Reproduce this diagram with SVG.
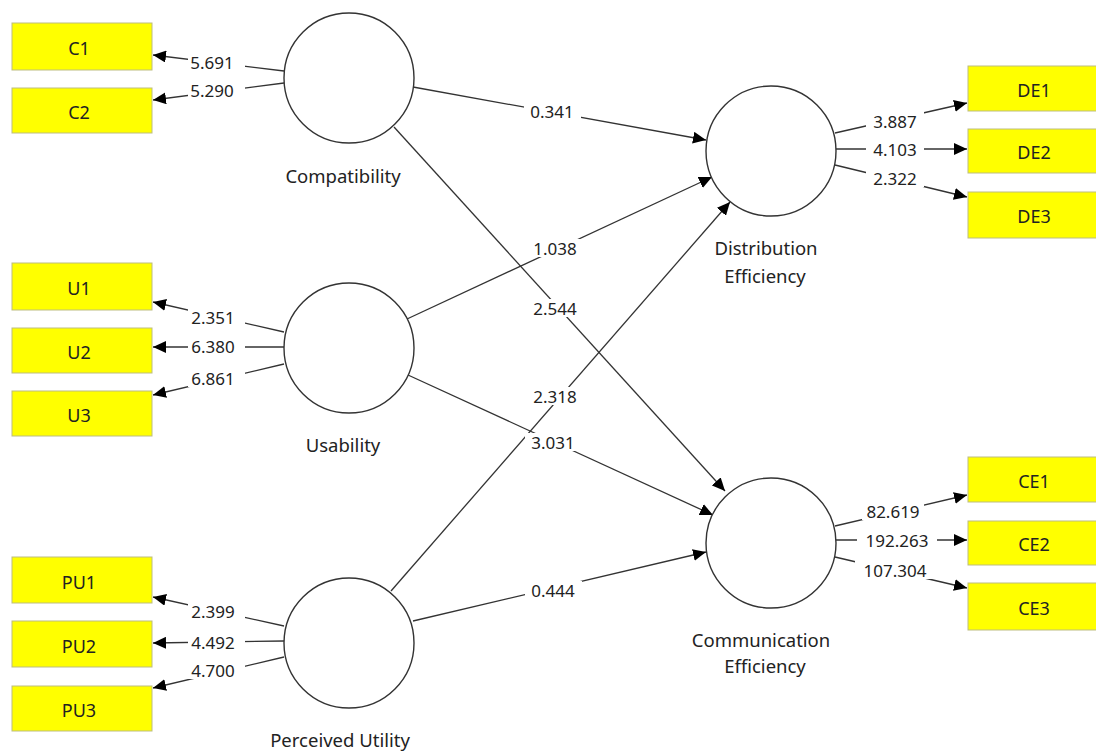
<svg xmlns="http://www.w3.org/2000/svg" width="1096" height="751" viewBox="0 0 1096 751">
<defs>
<marker id="arr" markerUnits="userSpaceOnUse" markerWidth="14" markerHeight="12" refX="13" refY="6" orient="auto">
<path d="M0,0 L13,6 L0,12 z" fill="#000"/>
</marker>
<style>
.box{fill:#ffff00;stroke:#bdbd80;stroke-width:1}
.lv{fill:#fff;stroke:#333;stroke-width:1.4}
.bt{font-family:"Noto Sans","Open Sans","Liberation Sans",sans-serif;font-size:18px;fill:#222;text-anchor:middle}
.lt{font-family:"Noto Sans","Open Sans","Liberation Sans",sans-serif;font-size:18.5px;fill:#222;text-anchor:middle}
.nt{font-family:"Noto Sans","Open Sans","Liberation Sans",sans-serif;font-size:17px;fill:#222;text-anchor:middle;dominant-baseline:central}
.ln{stroke:#333;stroke-width:1.3;fill:none;marker-end:url(#arr)}
.bg{fill:#fff}
</style>
</defs>
<rect width="1096" height="751" fill="#fff"/>
<g id="connectors">
<line class="ln" x1="284" y1="71" x2="153" y2="55"/>
<line class="ln" x1="284" y1="83" x2="153" y2="100"/>
<line class="ln" x1="284" y1="332" x2="153" y2="302"/>
<line class="ln" x1="284" y1="347" x2="153" y2="347"/>
<line class="ln" x1="284" y1="364" x2="153" y2="395"/>
<line class="ln" x1="284" y1="626" x2="153" y2="597"/>
<line class="ln" x1="284" y1="641" x2="153" y2="643"/>
<line class="ln" x1="284" y1="657" x2="153" y2="688"/>
<line class="ln" x1="835" y1="133" x2="967" y2="103"/>
<line class="ln" x1="836" y1="149" x2="967" y2="149"/>
<line class="ln" x1="835" y1="165" x2="967" y2="197"/>
<line class="ln" x1="835" y1="526" x2="967" y2="495"/>
<line class="ln" x1="836" y1="540" x2="967" y2="540"/>
<line class="ln" x1="835" y1="557" x2="967" y2="588"/>
<line class="ln" x1="413" y1="87" x2="706" y2="140"/>
<line class="ln" x1="407" y1="319" x2="712" y2="177"/>
<line class="ln" x1="391" y1="591" x2="730" y2="202"/>
<line class="ln" x1="394" y1="127" x2="725" y2="491"/>
<line class="ln" x1="408" y1="375" x2="713" y2="515"/>
<line class="ln" x1="413" y1="621" x2="706" y2="552"/>
<g id="labels">
<rect class="bg" x="188" y="53" width="57" height="18"/><text class="nt" x="212" y="62">5.691</text>
<rect class="bg" x="188" y="81" width="57" height="18"/><text class="nt" x="212" y="90">5.290</text>
<rect class="bg" x="188" y="308" width="57" height="18"/><text class="nt" x="213" y="317">2.351</text>
<rect class="bg" x="188" y="337" width="57" height="18"/><text class="nt" x="213" y="346">6.380</text>
<rect class="bg" x="188" y="369" width="57" height="18"/><text class="nt" x="213" y="378">6.861</text>
<rect class="bg" x="188" y="602" width="57" height="18"/><text class="nt" x="213" y="611">2.399</text>
<rect class="bg" x="188" y="633" width="57" height="18"/><text class="nt" x="213" y="642">4.492</text>
<rect class="bg" x="188" y="661" width="57" height="18"/><text class="nt" x="213" y="670">4.700</text>
<rect class="bg" x="866" y="112" width="58" height="18"/><text class="nt" x="895" y="121">3.887</text>
<rect class="bg" x="866" y="140" width="58" height="18"/><text class="nt" x="895" y="149">4.103</text>
<rect class="bg" x="866" y="169" width="58" height="18"/><text class="nt" x="895" y="178">2.322</text>
<rect class="bg" x="862" y="502" width="62" height="18"/><text class="nt" x="893" y="511">82.619</text>
<rect class="bg" x="857" y="531" width="80" height="18"/><text class="nt" x="897" y="540">192.263</text>
<rect class="bg" x="855" y="561" width="80" height="18"/><text class="nt" x="895" y="570">107.304</text>
<rect class="bg" x="524" y="102" width="57" height="18"/><text class="nt" x="552" y="111">0.341</text>
<rect class="bg" x="527" y="239" width="57" height="18"/><text class="nt" x="555" y="248">1.038</text>
<rect class="bg" x="527" y="299" width="57" height="18"/><text class="nt" x="555" y="308">2.544</text>
<rect class="bg" x="527" y="387" width="57" height="18"/><text class="nt" x="555" y="396">2.318</text>
<rect class="bg" x="525" y="433" width="57" height="18"/><text class="nt" x="553" y="442">3.031</text>
<rect class="bg" x="525" y="581" width="57" height="18"/><text class="nt" x="553" y="590">0.444</text>
</g>
</g>
<g id="C1"><rect class="box" x="12" y="23" width="140" height="47"/><text class="bt" x="79" y="55">C1</text></g>
<g id="C2"><rect class="box" x="12" y="88" width="140" height="45"/><text class="bt" x="79" y="119">C2</text></g>
<g id="U1"><rect class="box" x="12" y="263" width="140" height="47"/><text class="bt" x="79" y="295">U1</text></g>
<g id="U2"><rect class="box" x="12" y="328" width="140" height="45"/><text class="bt" x="79" y="359">U2</text></g>
<g id="U3"><rect class="box" x="12" y="391" width="140" height="45"/><text class="bt" x="79" y="422">U3</text></g>
<g id="PU1"><rect class="box" x="12" y="557" width="140" height="46"/><text class="bt" x="79" y="589">PU1</text></g>
<g id="PU2"><rect class="box" x="12" y="621" width="140" height="46"/><text class="bt" x="79" y="653">PU2</text></g>
<g id="PU3"><rect class="box" x="12" y="686" width="140" height="45"/><text class="bt" x="79" y="717">PU3</text></g>
<g id="DE1"><rect class="box" x="968" y="66" width="140" height="45"/><text class="bt" x="1034" y="97">DE1</text></g>
<g id="DE2"><rect class="box" x="968" y="129" width="140" height="44"/><text class="bt" x="1034" y="159">DE2</text></g>
<g id="DE3"><rect class="box" x="968" y="192" width="140" height="46"/><text class="bt" x="1034" y="223">DE3</text></g>
<g id="CE1"><rect class="box" x="968" y="457" width="140" height="45"/><text class="bt" x="1034" y="488">CE1</text></g>
<g id="CE2"><rect class="box" x="968" y="521" width="140" height="44"/><text class="bt" x="1034" y="551">CE2</text></g>
<g id="CE3"><rect class="box" x="968" y="583" width="140" height="47"/><text class="bt" x="1034" y="615">CE3</text></g>
<g id="Compatibility"><circle class="lv" cx="349" cy="78" r="65"/><text class="lt" x="343" y="183">Compatibility</text></g>
<g id="Usability"><circle class="lv" cx="349" cy="348" r="65"/><text class="lt" x="343" y="452">Usability</text></g>
<g id="PerceivedUtility"><circle class="lv" cx="349" cy="643" r="65"/><text class="lt" x="340" y="747">Perceived Utility</text></g>
<g id="DistributionEfficiency"><circle class="lv" cx="771" cy="151" r="65"/><text class="lt" x="766" y="255">Distribution</text><text class="lt" x="765" y="283">Efficiency</text></g>
<g id="CommunicationEfficiency"><circle class="lv" cx="771" cy="543" r="65"/><text class="lt" x="761" y="647">Communication</text><text class="lt" x="765" y="673">Efficiency</text></g>
</svg>
